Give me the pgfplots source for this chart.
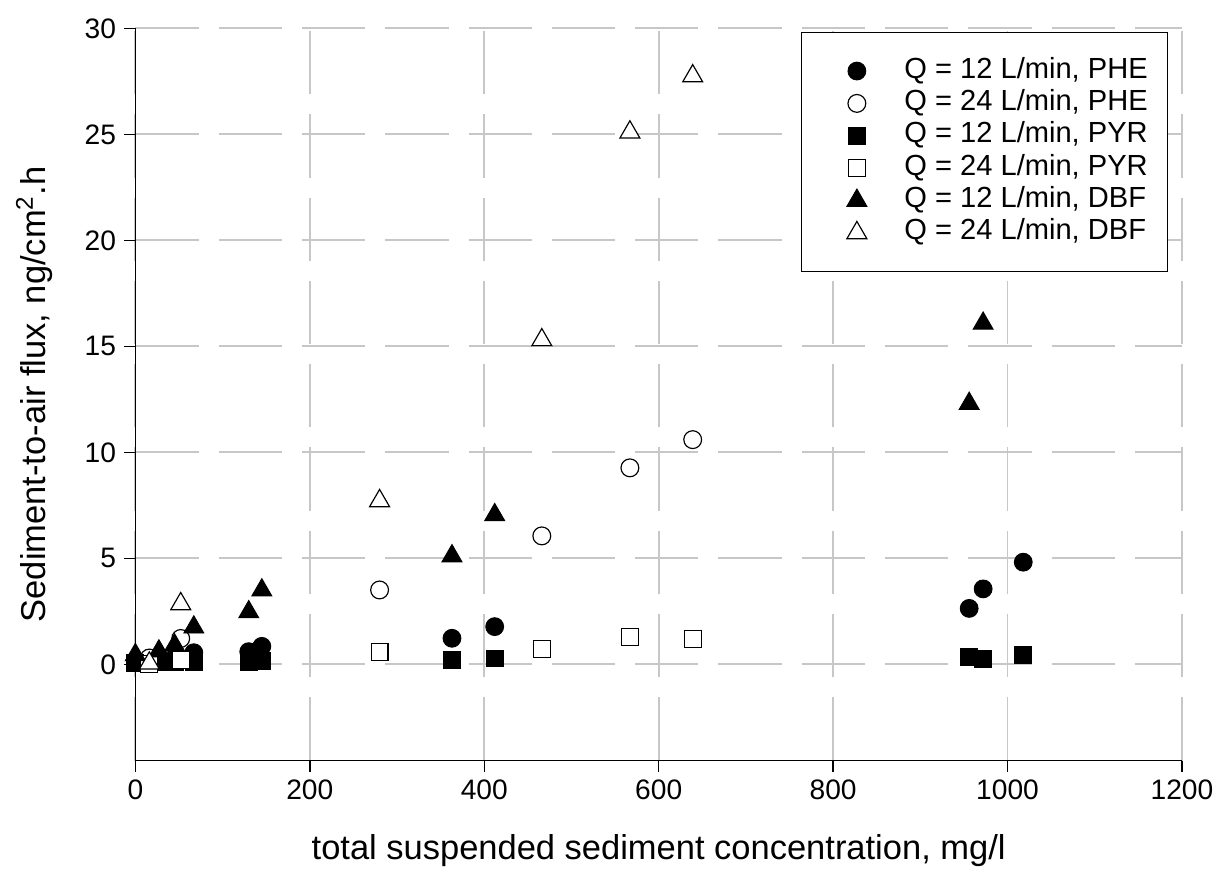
\documentclass[border=0pt]{standalone}
\usepackage{fontspec}
\setmainfont{Liberation Sans}
\usepackage{pgfplots}
\pgfplotsset{compat=1.18}

\pgfplotsset{
  filled/.style={only marks, mark options={fill=black, draw=black, line width=0.4pt}},
  hollow/.style={only marks, mark options={fill=white, draw=black, line width=0.5pt}},
}

\begin{document}
\begin{tikzpicture}
  \useasboundingbox (-57.7pt,-47.1pt) rectangle (462.3pt,324.2pt);
  \begin{axis}[
    at={(0pt,0pt)}, anchor=south west,
    scale only axis,
    width=446.1pt, height=312.1pt,
    xmin=0, xmax=1200,
    ymin=-4.54, ymax=30,
    xtick={0,200,...,1200},
    ytick={0,5,...,30},
    axis x line*=bottom, axis y line*=left,
    axis line style={-, line width=0.6pt},
    tick align=outside,
    major tick length=4.7pt,
    every tick/.style={black, line width=0.6pt},
    grid=major,
    major grid style={black!22, line width=0.8pt, dash pattern=on 27pt off 8.5pt},
    /pgf/number format/assume math mode=true,
    /pgf/number format/1000 sep={},
    tick label style={font=\fontsize{12}{14}\selectfont},
    xlabel={total suspended sediment concentration, mg/l},
    ylabel={Sediment-to-air flux, ng/cm\textsuperscript{2}.h},
    label style={font=\fontsize{14.7}{17}\selectfont},
    xlabel style={at={(axis description cs:0.5,0)}, anchor=base, yshift=-42pt, inner sep=0pt},
    ylabel style={at={(axis description cs:-0.0863,0.5)}, anchor=base, inner sep=0pt},
    legend style={
      at={(0.9869,0.9954)}, anchor=north east,
      draw=black, line width=0.5pt, fill=white,
      font=\fontsize{12.4}{14}\selectfont,
      inner xsep=8.5pt, inner ysep=10.5pt,
      row sep=1.8pt,
      nodes={inner xsep=0pt, inner ysep=0pt, text height=9pt, text depth=3pt},
    },
    legend cell align=left,
    legend image code/.code={\path (0pt,0pt) (34.8pt,0pt); \draw[#1] plot coordinates {(14.8pt,0pt)};},
  ]
    % Q = 12 L/min, PHE
    \addplot[filled, mark=*, mark size=3.8pt] coordinates {
      (0,0.15) (27,0.2) (45,0.3) (67,0.55) (130,0.6) (145,0.85)
      (363,1.23) (412,1.78) (956,2.64) (972,3.56) (1018,4.82)};
    \addlegendentry{Q = 12 L/min, PHE}
    % Q = 24 L/min, PHE
    \addplot[hollow, mark=o, mark size=3.8pt] coordinates {
      (16,0.3) (52,1.22) (280,3.51) (466,6.06) (567,9.27) (639,10.6)};
    \addlegendentry{Q = 24 L/min, PHE}
    % Q = 12 L/min, PYR
    \addplot[filled, mark=square*, mark size=3.6pt] coordinates {
      (0,0.05) (27,0.1) (45,0.1) (67,0.1) (130,0.1) (145,0.15)
      (363,0.2) (412,0.28) (956,0.33) (972,0.25) (1018,0.44)};
    \addlegendentry{Q = 12 L/min, PYR}
    % Q = 24 L/min, PYR
    \addplot[hollow, mark=square*, mark size=3.6pt] coordinates {
      (16,0.02) (52,0.22) (280,0.6) (466,0.71) (567,1.3) (639,1.19)};
    \addlegendentry{Q = 24 L/min, PYR}
    % Q = 12 L/min, DBF
    \addplot[filled, mark=triangle*, mark size=4.9pt] coordinates {
      (0,0.45) (27,0.62) (45,0.9) (67,1.75) (130,2.47) (145,3.5)
      (363,5.11) (412,7.05) (956,12.3) (972,16.08)};
    \addlegendentry{Q = 12 L/min, DBF}
    % Q = 24 L/min, DBF
    \addplot[hollow, mark=triangle*, mark size=4.9pt] coordinates {
      (16,0.05) (52,2.85) (280,7.71) (466,15.3) (567,25.1) (639,27.75)};
    \addlegendentry{Q = 24 L/min, DBF}
  \end{axis}
\end{tikzpicture}
\end{document}
